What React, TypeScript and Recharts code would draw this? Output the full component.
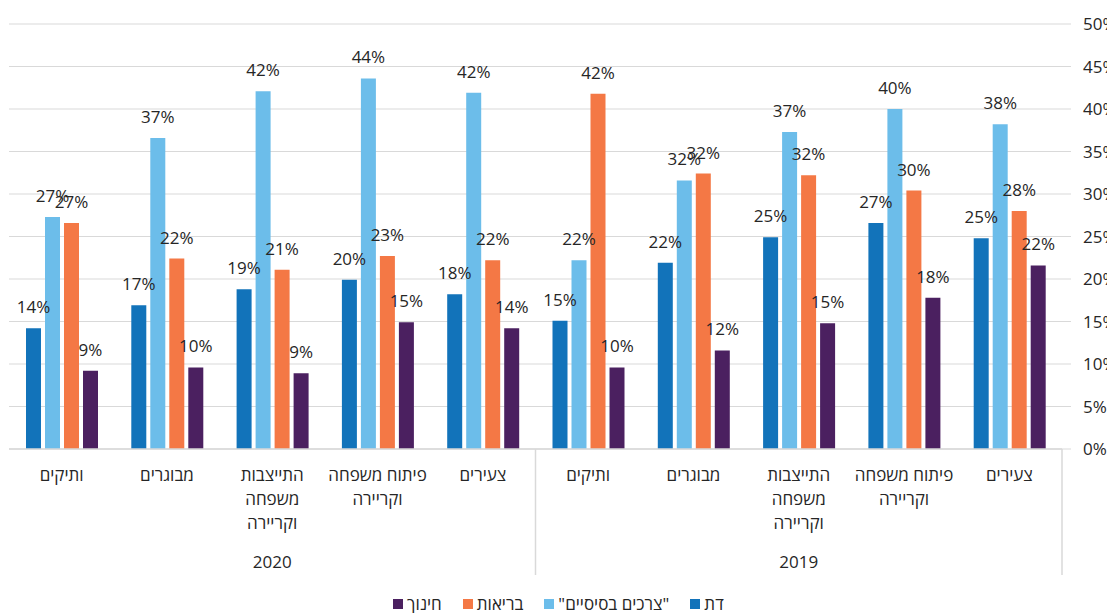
import React from 'react'
import { BarChart, Bar, XAxis, YAxis, CartesianGrid, LabelList } from 'recharts'

// categories left to right as drawn (the chart reads right to left)
const CATEGORIES = [
  'ותיקים', 'מבוגרים', 'התייצבות\nמשפחה\nוקריירה', 'פיתוח משפחה\nוקריירה', 'צעירים',
  'ותיקים', 'מבוגרים', 'התייצבות\nמשפחה\nוקריירה', 'פיתוח משפחה\nוקריירה', 'צעירים',
]
const YEARS = ['2020', '2020', '2020', '2020', '2020', '2019', '2019', '2019', '2019', '2019']

const RELIGION = [14.2, 16.9, 18.8, 19.9, 18.2, 15.1, 21.9, 24.9, 26.6, 24.8]
const BASIC_NEEDS = [27.3, 36.6, 42.1, 43.6, 41.9, 22.2, 31.6, 37.3, 40.0, 38.2]
const HEALTH = [26.6, 22.4, 21.1, 22.7, 22.2, 41.8, 32.4, 32.2, 30.4, 28.0]
const EDUCATION = [9.2, 9.6, 8.9, 14.9, 14.2, 9.6, 11.6, 14.8, 17.8, 21.6]

const Y_TICKS = [0, 5, 10, 15, 20, 25, 30, 35, 40, 45, 50]

const SERIES = [
  { key: 'religion', name: 'דת', color: '#1273ba', values: RELIGION },
  { key: 'basic', name: '"צרכים בסיסיים"', color: '#6cbdea', values: BASIC_NEEDS },
  { key: 'health', name: 'בריאות', color: '#f47845', values: HEALTH },
  { key: 'education', name: 'חינוך', color: '#4b2060', values: EDUCATION },
]

const FONT = '"Open Sans", "DejaVu Sans", sans-serif'
const TEXT = '#262626'
const GRID = '#d9d9d9'

const W = 1107
const H = 613
const PLOT_LEFT = 9
const Y_AXIS_W = 45
const PLOT_RIGHT = W - Y_AXIS_W
const PLOT_BOTTOM = 449
const CAT_W = (PLOT_RIGHT - PLOT_LEFT) / CATEGORIES.length

const data = CATEGORIES.map((cat, i) => {
  const row: Record<string, string | number> = { cat: `${i}`, label: cat, year: YEARS[i] }
  SERIES.forEach(s => { row[s.key] = s.values[i] })
  return row
})

function CategoryTick(props: any) {
  const { x, index } = props
  const lines = CATEGORIES[index].split('\n')
  const isYearMid = index === 2 || index === 7
  return (
    <g>
      <text x={x} y={PLOT_BOTTOM + 32} textAnchor="middle" fontSize={17} fill={TEXT} fontFamily={FONT}>
        {lines.map((l, i) => (
          <tspan key={i} x={x} dy={i === 0 ? 0 : 24}>{l}</tspan>
        ))}
      </text>
      {isYearMid && (
        <text x={x} y={PLOT_BOTTOM + 119} textAnchor="middle" fontSize={17} fill={TEXT} fontFamily={FONT}>
          {YEARS[index]}
        </text>
      )}
      {index === 5 && (
        <line x1={x - CAT_W / 2} x2={x - CAT_W / 2} y1={PLOT_BOTTOM} y2={PLOT_BOTTOM + 126} stroke={GRID} strokeWidth={1.5} />
      )}
      {index === CATEGORIES.length - 1 && (
        <line x1={x + CAT_W / 2} x2={x + CAT_W / 2} y1={PLOT_BOTTOM} y2={PLOT_BOTTOM + 126} stroke={GRID} strokeWidth={1.5} />
      )}
    </g>
  )
}

export default function App() {
  return (
    <div style={{ position: 'absolute', left: 0, top: 0, width: W, height: H, overflow: 'hidden', background: '#fff', fontFamily: FONT }}>
      <BarChart
        width={W}
        height={H}
        data={data}
        margin={{ top: 24, right: 0, left: PLOT_LEFT, bottom: 0 }}
        barSize={15}
        barGap={4}
      >
        <CartesianGrid vertical={false} stroke={GRID} strokeWidth={1.2} />
        <XAxis
          dataKey="cat"
          height={H - PLOT_BOTTOM}
          interval={0}
          tickLine={false}
          axisLine={{ stroke: GRID, strokeWidth: 1.5 }}
          tick={<CategoryTick />}
        />
        <YAxis
          orientation="right"
          width={Y_AXIS_W}
          domain={[0, 50]}
          ticks={Y_TICKS}
          interval={0}
          axisLine={false}
          tickLine={{ stroke: GRID }}
          tickSize={9}
          tickMargin={12}
          tickFormatter={(v: number) => `${v}%`}
          tick={{ fontSize: 17, fill: TEXT, fontFamily: FONT }}
        />
        {SERIES.map(s => (
          <Bar key={s.key} dataKey={s.key} name={s.name} fill={s.color} isAnimationActive={false}>
            <LabelList
              dataKey={s.key}
              position="top"
              offset={15}
              fontSize={17}
              fill={TEXT}
              fontFamily={FONT}
              formatter={(v: any) => `${Math.round(Number(v))}%`}
            />
          </Bar>
        ))}
      </BarChart>

      {/* legend, items reversed like the original */}
      <div style={{ position: 'absolute', left: 393, top: 592, display: 'flex', alignItems: 'center', gap: 21, fontSize: 17, color: TEXT, direction: 'ltr' }}>
        {[...SERIES].reverse().map(s => (
          <div key={s.key} style={{ display: 'flex', alignItems: 'center' }}>
            <span style={{ width: 10, height: 10, background: s.color, marginRight: 4, display: 'inline-block' }} />
            <span style={{ whiteSpace: 'nowrap' }}>{s.name}</span>
          </div>
        ))}
      </div>
    </div>
  )
}
